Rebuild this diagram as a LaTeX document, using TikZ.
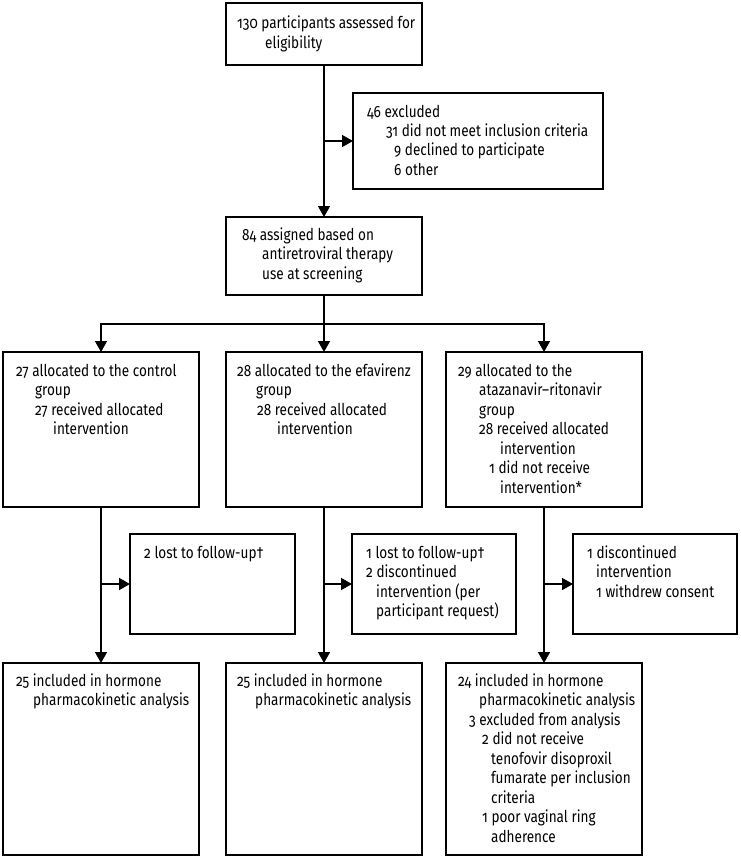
\documentclass[tikz,border=0pt]{standalone}
\usepackage{fontspec}
\setmainfont{Fira Sans}[Numbers=OldStyle]
\usetikzlibrary{arrows.meta}
\newlength\testw
\settowidth\testw{\normalfont\fontsize{16.3}{19.5}\selectfont pharmacokinetic analysis}
\pgfmathsetmacro\strratio{156/\testw}
\edef\tmpfontset{\noexpand\setmainfont{Fira Sans}[Numbers=OldStyle,FakeStretch=\strratio]}
\tmpfontset
\newcommand\boxlines[1]{\begin{tabular}[t]{@{}l@{}}#1\end{tabular}}
\newcommand\lnx[2]{\hspace*{#1pt}#2}
\begin{document}
\begin{tikzpicture}[x=1pt,y=-1pt,
  box/.style={draw, line width=1.5pt, inner sep=0pt, outer sep=0pt},
  arr/.style={-{Triangle[length=11pt,width=12pt]}, line width=1.5pt},
  ln/.style={line width=1.5pt},
  txt/.style={anchor=base west, inner sep=0pt, font=\fontsize{16.3}{19.5}\selectfont}]
\useasboundingbox (0,0) rectangle (741,859);

% boxes
\node[box, minimum width=196pt, minimum height=62pt] (top) at (324,34) {};
\node[box, minimum width=250pt, minimum height=96pt] (excl) at (478,141) {};
\node[box, minimum width=196pt, minimum height=78pt] (assign) at (324,256) {};
\node[box, minimum width=196pt, minimum height=155pt] (g1) at (101,429.5) {};
\node[box, minimum width=196pt, minimum height=155pt] (g2) at (324,429.5) {};
\node[box, minimum width=196pt, minimum height=155pt] (g3) at (544,429.5) {};
\node[box, minimum width=165pt, minimum height=100pt] (s1) at (212.5,584) {};
\node[box, minimum width=164pt, minimum height=100pt] (s2) at (434,584) {};
\node[box, minimum width=164pt, minimum height=100pt] (s3) at (655,584) {};
\node[box, minimum width=196pt, minimum height=192pt] (r1) at (101,759) {};
\node[box, minimum width=196pt, minimum height=192pt] (r2) at (324,759) {};
\node[box, minimum width=196pt, minimum height=192pt] (r3) at (544,759) {};

% texts
\node[txt] (ttop) at (237,29) {\boxlines{\lnx{0}{130 participants assessed for}\\\lnx{28}{eligibility}}};
\node[txt] (texcl) at (367,117) {\boxlines{\lnx{0}{46 excluded}\\\lnx{19}{31 did not meet inclusion criteria}\\\lnx{27}{9 declined to participate}\\\lnx{27}{6 other}}};
\node[txt] (tassign) at (242,240) {\boxlines{\lnx{0}{84 assigned based on}\\\lnx{20}{antiretroviral therapy}\\\lnx{20}{use at screening}}};
\node[txt] (tg1) at (16,376) {\boxlines{\lnx{0}{27 allocated to the control}\\\lnx{19}{group}\\\lnx{19}{27 received allocated}\\\lnx{37}{intervention}}};
\node[txt] (tg2) at (237,376) {\boxlines{\lnx{0}{28 allocated to the efavirenz}\\\lnx{19}{group}\\\lnx{20}{28 received allocated}\\\lnx{40}{intervention}}};
\node[txt] (tg3) at (458,376) {\boxlines{\lnx{0}{29 allocated to the}\\\lnx{21}{atazanavir–ritonavir}\\\lnx{21}{group}\\\lnx{21}{28 received allocated}\\\lnx{42}{intervention}\\\lnx{31}{1 did not receive}\\\lnx{42}{intervention*}}};
\node[txt] (ts1) at (144,558) {\boxlines{\lnx{0}{2 lost to follow-up†}}};
\node[txt] (ts2) at (366,558) {\boxlines{\lnx{0}{1 lost to follow-up†}\\\lnx{0}{2 discontinued}\\\lnx{10}{intervention (per}\\\lnx{10}{participant request)}}};
\node[txt] (ts3) at (587,558) {\boxlines{\lnx{0}{1 discontinued}\\\lnx{9}{intervention}\\\lnx{9}{1 withdrew consent}}};
\node[txt] (tr1) at (16,686) {\boxlines{\lnx{0}{25 included in hormone}\\\lnx{17}{pharmacokinetic analysis}}};
\node[txt] (tr2) at (237,686) {\boxlines{\lnx{0}{25 included in hormone}\\\lnx{18}{pharmacokinetic analysis}}};
\node[txt] (tr3) at (458,686) {\boxlines{\lnx{0}{24 included in hormone}\\\lnx{21}{pharmacokinetic analysis}\\\lnx{11}{3 excluded from analysis}\\\lnx{24}{2 did not receive}\\\lnx{33}{tenofovir disoproxil}\\\lnx{33}{fumarate per inclusion}\\\lnx{33}{criteria}\\\lnx{24}{1 poor vaginal ring}\\\lnx{33}{adherence}}};

% connectors
\draw[arr] (top.south) -- (assign.north);
\draw[arr] (top.south |- excl.west) -- (excl.west);
\coordinate (split) at (324,324);
\draw[ln] (assign.south) -- (split);
\draw[arr] (split) -- (g2.north);
\draw[arr] (split) -| (g1.north);
\draw[arr] (split) -| (g3.north);
\draw[arr] (g1.south) -- (r1.north);
\draw[arr] (g2.south) -- (r2.north);
\draw[arr] (g3.south) -- (r3.north);
\draw[arr] (g1.south |- s1.west) -- (s1.west);
\draw[arr] (g2.south |- s2.west) -- (s2.west);
\draw[arr] (g3.south |- s3.west) -- (s3.west);
\end{tikzpicture}
\end{document}
